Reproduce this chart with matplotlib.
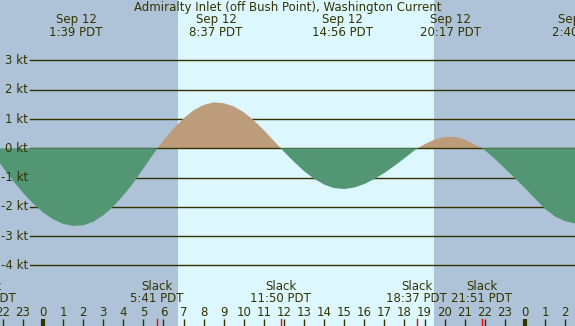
import numpy as np
import matplotlib
matplotlib.use('Agg')
import matplotlib.pyplot as plt

# current speed (kt), sampled every half hour from 22:30 on Sep 11
hours = np.arange(-2.5, 27.01, 0.5)
speed = [-0.17, -0.65, -1.10, -1.52, -1.88,
         -2.19, -2.42, -2.58, -2.65, -2.63, -2.51, -2.29, -1.99, -1.61, -1.18, -0.69, -0.19,
         0.27, 0.67, 1.02, 1.30, 1.48, 1.57, 1.54, 1.43, 1.23, 0.95, 0.62, 0.25,
         -0.12, -0.46, -0.78, -1.04, -1.24, -1.36, -1.39, -1.34, -1.22, -1.05, -0.84, -0.60,
         -0.34, -0.07, 0.14, 0.30, 0.39, 0.39, 0.30, 0.13, -0.07, -0.36, -0.69, -1.02,
         -1.36, -1.72, -2.07, -2.33, -2.49, -2.57, -2.58]

# max current events
peak_hours = [1 + 39/60, 8 + 37/60, 14 + 56/60, 20 + 17/60, 26 + 40/60]
peak_dates = ['Sep 12', 'Sep 12', 'Sep 12', 'Sep 12', 'Sep 13']
peak_times = ['1:39 PDT', '8:37 PDT', '14:56 PDT', '20:17 PDT', '2:40 PDT']

# slack events
slack_hours = [-3 + 8/60, 5 + 41/60, 11 + 50/60, 18 + 37/60, 21 + 51/60]
slack_times = ['21:08 PDT', '5:41 PDT', '11:50 PDT', '18:37 PDT', '21:51 PDT']

sunrise = 6 + 43/60
sunset = 19 + 28/60

levels = [3, 2, 1, 0, -1, -2, -3, -4]
tick_hours = list(range(-2, 27))

night = '#AFC3D8'
day = '#DDF7FF'
ebb = '#529673'
flood = '#BD9C7B'
ink = '#333300'

W, H = 575, 326
fig = plt.figure(figsize=(W / 100, H / 100), dpi=100)
ax = fig.add_axes([0, 0, 1, 1])
ax.set_facecolor(night)
ax.set_xlim(-2.141, 26.49)
ax.set_ylim(-6.067, 5.063)
ax.axis('off')
ax.add_patch(plt.Rectangle((0, 0), 1, 1, transform=ax.transAxes, color=night, zorder=0))
ax.axvspan(sunrise, sunset, color=day, lw=0, zorder=0.5)

def yf(p):
    return 1 - p / H

# grid lines (behind the fills)
for lv in levels:
    if lv == 0:
        continue
    ax.axhline(lv, xmin=30 / W, xmax=1, color=ink, lw=1, zorder=1)

sp = np.array(speed)
ax.fill_between(hours, 0, sp, where=sp >= 0, interpolate=True, color=flood, lw=0, zorder=2)
ax.axhline(0, xmin=30 / W, xmax=1, color=ink, lw=1, zorder=3)
ax.fill_between(hours, 0, sp, where=sp <= 0, interpolate=True, color=ebb, lw=0, zorder=4)

fs = 8.5
ytr = ax.get_yaxis_transform()
for lv in levels:
    ax.text(28 / W, lv, f'{lv} kt', transform=ytr, ha='right', va='center',
            fontsize=fs, color=ink, zorder=6)

xtr = ax.get_xaxis_transform()
ax.text(0.5, yf(7), 'Admiralty Inlet (off Bush Point), Washington Current',
        transform=ax.transAxes, ha='center', va='center', fontsize=fs, color=ink, zorder=6)

for h, d, t in zip(peak_hours, peak_dates, peak_times):
    ax.text(h, yf(20), d, transform=xtr, ha='center', va='center', fontsize=fs, color=ink, zorder=6)
    ax.text(h, yf(32), t, transform=xtr, ha='center', va='center', fontsize=fs, color=ink, zorder=6)

for h, t in zip(slack_hours, slack_times):
    ax.text(h, yf(287), 'Slack', transform=xtr, ha='center', va='center', fontsize=fs, color=ink, zorder=6)
    ax.text(h, yf(299), t, transform=xtr, ha='center', va='center', fontsize=fs, color=ink, zorder=6)
    ax.plot([h, h], [0, 7 / H], transform=xtr, color='#FF0000', lw=1, zorder=5)

for h in tick_hours:
    ax.text(h, yf(312), str(h % 24), transform=xtr, ha='center', va='center',
            fontsize=fs, color=ink, zorder=6)
    ax.plot([h, h], [0, 7 / H], transform=xtr, color=ink,
            lw=3 if h % 24 == 0 else 1, solid_capstyle='butt', zorder=5)

fig.savefig('out.png', dpi=100)
